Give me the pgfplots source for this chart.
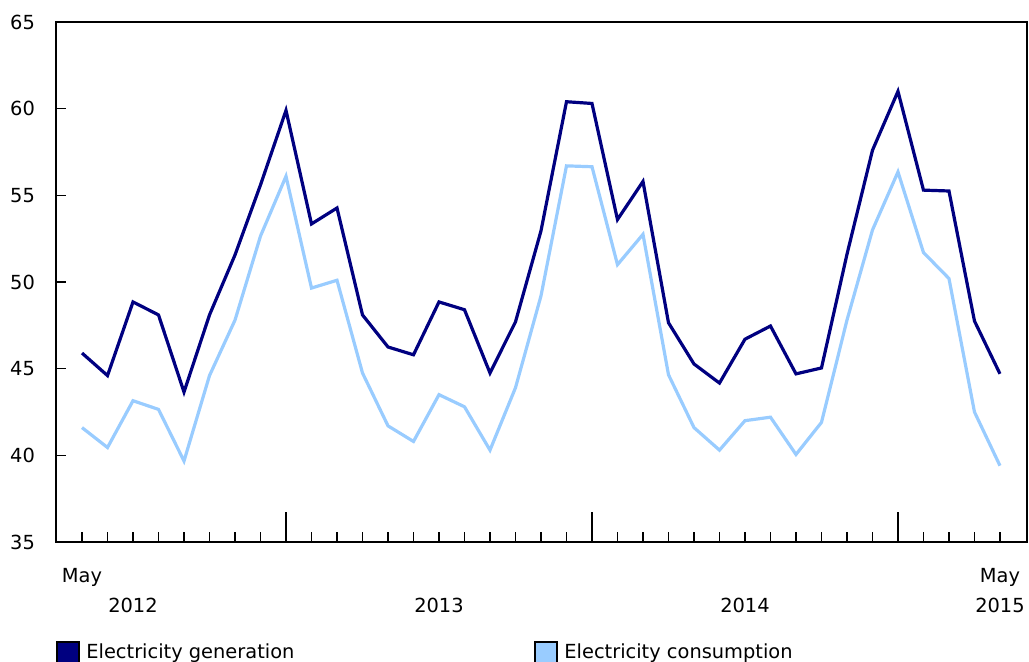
\documentclass[border=0pt]{standalone}
\usepackage{pgfplots}
\pgfplotsset{compat=1.18}
\usepackage{fontspec}
\setmainfont{DejaVu Sans}
\definecolor{gen}{HTML}{000080}
\definecolor{cons}{HTML}{99CCFF}
\begin{document}
\begin{tikzpicture}
\begin{axis}[
  name=ax,
  scale only axis,
  width=485.5pt, height=260pt,
  xmin=-1.02, xmax=37.06,
  ymin=35, ymax=65,
  axis line style={line width=0.9pt},
  font=\fontsize{9.7}{15}\selectfont,
  /pgf/number format/assume math mode=true,
  ytick={35,40,...,65},
  ytick pos=left,
  xtick pos=bottom,
  tick align=inside,
  tick style={line width=0.8pt, black},
  major tick length=4.8pt,
  xtick={0,...,36},
  xticklabels={May,,\vphantom{May}\\2012,,,,,,,,,,,,\vphantom{May}\\2013,,,,,,,,,,,,\vphantom{May}\\2014,,,,,,,,,,May\\2015},
  x tick label style={align=center, yshift=-9.5pt},
  extra x ticks={8,20,32},
  extra x tick labels={},
  extra x tick style={major tick length=15pt},
  yticklabel style={xshift=-7pt},
  legend columns=2,
  legend style={at={(0,-0.19)}, anchor=north west, draw=none, inner sep=0pt,
    font=\fontsize{9.7}{12}\selectfont,
    nodes={inner sep=0pt, anchor=west},
    /tikz/every odd column/.append style={column sep=3.3pt},
    /tikz/every even column/.append style={column sep=120pt}},
  legend image code/.code={\draw[#1, draw=black, line width=0.7pt, fill] (0pt,-5.5pt) rectangle (11pt,5.5pt);},
]
\addplot[gen, line width=1.6pt] coordinates {
(0,45.9)(1,44.6)(2,48.85)(3,48.1)(4,43.65)(5,48.1)(6,51.56)(7,55.6)(8,59.9)(9,53.35)(10,54.27)(11,48.1)
(12,46.25)(13,45.8)(14,48.85)(15,48.4)(16,44.75)(17,47.7)(18,52.95)(19,60.4)(20,60.3)(21,53.6)(22,55.8)(23,47.65)
(24,45.27)(25,44.17)(26,46.7)(27,47.46)(28,44.7)(29,45.04)(30,51.6)(31,57.6)(32,61.0)(33,55.3)(34,55.25)(35,47.75)(36,44.7)};
\addlegendentry{Electricity generation}
\addplot[cons, line width=1.6pt] coordinates {
(0,41.6)(1,40.45)(2,43.15)(3,42.65)(4,39.67)(5,44.6)(6,47.8)(7,52.65)(8,56.1)(9,49.65)(10,50.1)(11,44.75)
(12,41.7)(13,40.8)(14,43.5)(15,42.8)(16,40.3)(17,43.9)(18,49.2)(19,56.7)(20,56.65)(21,51.0)(22,52.75)(23,44.65)
(24,41.6)(25,40.3)(26,42.0)(27,42.2)(28,40.05)(29,41.9)(30,47.8)(31,53.0)(32,56.35)(33,51.7)(34,50.2)(35,42.5)(36,39.4)};
\addlegendentry{Electricity consumption}
\end{axis}
\pgfresetboundingbox
\path[use as bounding box] ([shift={(-28pt,-60pt)}]ax.south west) rectangle ([shift={(486.5pt,271pt)}]ax.south west);
\end{tikzpicture}
\end{document}
